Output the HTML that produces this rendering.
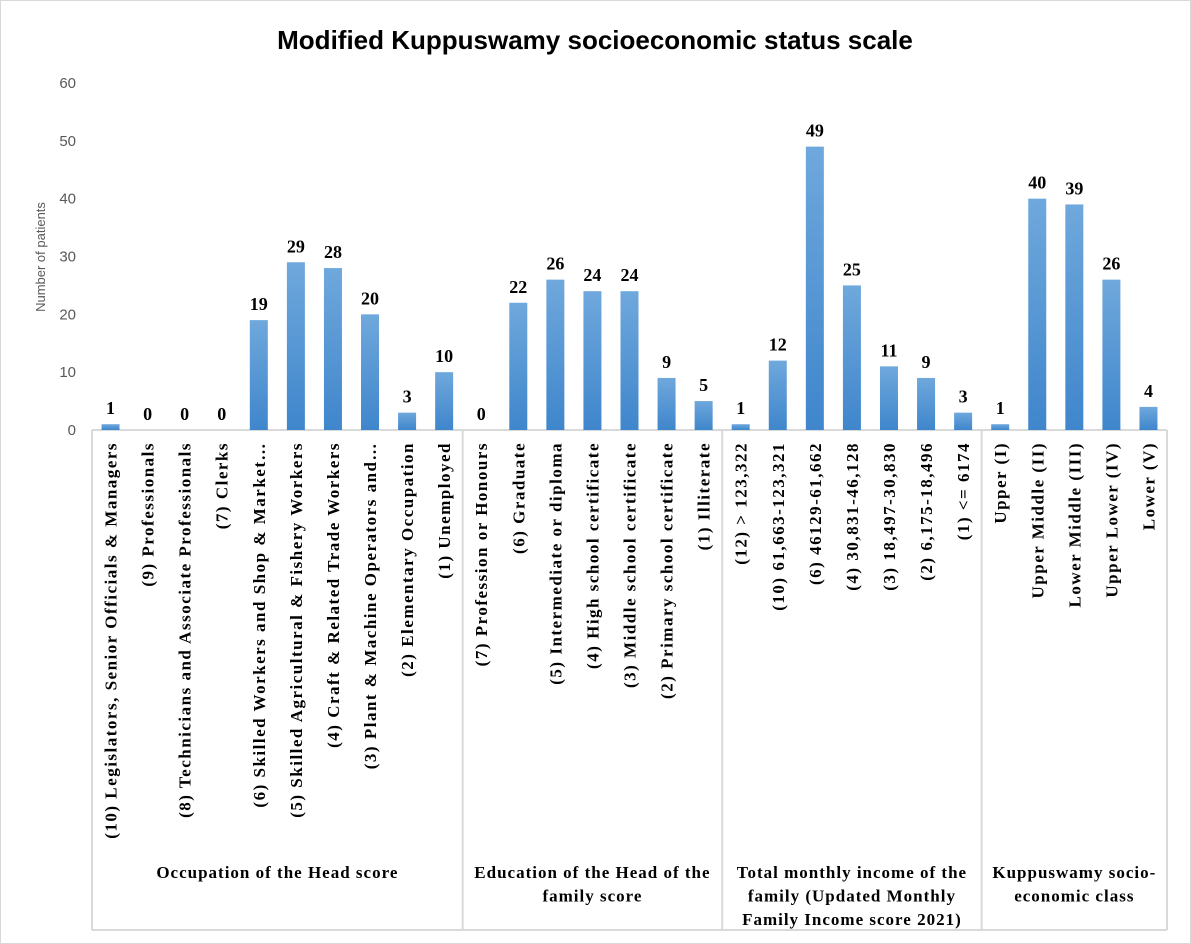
<!DOCTYPE html>
<html><head><meta charset="utf-8"><style>
body{margin:0;background:#fff;}
svg{display:block;}
</style></head><body>
<svg id="c" width="1191" height="944" xmlns="http://www.w3.org/2000/svg">
<rect x="0.5" y="0.5" width="1190" height="943" fill="#fff" stroke="#d9d9d9"/>
<text x="595" y="49" text-anchor="middle" font-family="Liberation Sans, sans-serif" font-weight="bold" font-size="26" fill="#000">Modified Kuppuswamy socioeconomic status scale</text>
<text transform="translate(45,257) rotate(-90)" text-anchor="middle" font-family="Liberation Sans, sans-serif" font-size="13" fill="#595959">Number  of patients</text>
<g id="g"></g>
</svg>
<script>
const categories=["(10) Legislators, Senior Officials & Managers","(9) Professionals","(8) Technicians and Associate Professionals","(7) Clerks","(6) Skilled Workers and Shop & Market…","(5) Skilled Agricultural & Fishery Workers","(4) Craft & Related Trade Workers","(3) Plant & Machine Operators and…","(2) Elementary Occupation","(1) Unemployed","(7) Profession or Honours","(6) Graduate","(5) Intermediate or diploma","(4) High school certificate","(3) Middle school certificate","(2) Primary school certificate","(1) Illiterate","(12) > 123,322","(10) 61,663-123,321","(6) 46129-61,662","(4) 30,831-46,128","(3) 18,497-30,830","(2) 6,175-18,496","(1) <= 6174","Upper (I)","Upper Middle (II)","Lower Middle (III)","Upper Lower (IV)","Lower (V)"];
const values=[1,0,0,0,19,29,28,20,3,10,0,22,26,24,24,9,5,1,12,49,25,11,9,3,1,40,39,26,4];
const groupNames=[["Occupation of the Head score"],["Education of the Head of the","family score"],["Total monthly income of the","family (Updated Monthly","Family Income score 2021)"],["Kuppuswamy socio-","economic class"]];
const groupSizes=[10,7,7,5];
const yTicks=[0,10,20,30,40,50,60];

const L=92,R=1167,Y0=430,Y60=83,B=930;
const pitch=(R-L)/categories.length;
const x=i=>L+pitch*(i+0.5);
const y=v=>Y0-(Y0-Y60)*v/60;
const NS="http://www.w3.org/2000/svg";
const g=document.getElementById('g');
function mk(t,a,txt){const e=document.createElementNS(NS,t);for(const k in a)e.setAttribute(k,a[k]);if(txt!==undefined)e.textContent=txt;g.appendChild(e);return e;}
yTicks.forEach(t=>{
  const e=mk('text',{x:76,y:y(t)+5,'text-anchor':'end','font-family':'Liberation Sans, sans-serif','font-size':15,fill:'#595959'},t);
  
  
});
const ax=mk('line',{x1:L,y1:Y0,x2:R,y2:Y0,stroke:'#d9d9d9','stroke-width':2});


const bl=mk('line',{x1:L,y1:B,x2:R,y2:B,stroke:'#d9d9d9','stroke-width':2});


const defs=mk('defs',{});
defs.innerHTML='<linearGradient id="bg" x1="0" y1="0" x2="0" y2="1"><stop offset="0" stop-color="#6fa8dc"/><stop offset="1" stop-color="#3f86cc"/></linearGradient>';
let start=0;
const seps=[0];
groupSizes.forEach(s=>{start+=s;seps.push(start);});
seps.forEach(s=>{
  const e=mk('line',{x1:L+pitch*s,y1:Y0,x2:L+pitch*s,y2:B,stroke:'#d9d9d9','stroke-width':2});
  
  
});
groupNames.forEach((lines,gi)=>{
  const cx=L+pitch*(seps[gi]+seps[gi+1])/2;
  lines.forEach((ln,li)=>{
    const e=mk('text',{x:cx,y:878+li*23.5,'text-anchor':'middle','font-family':'Liberation Serif, serif','font-weight':'bold','font-size':17,'letter-spacing':1,fill:'#000'},ln);
    
    
  });
});
values.forEach((v,i)=>{
  const cx=x(i);
  const r=mk('rect',{x:cx-9,y:y(v),width:18,height:Y0-y(v),fill:'url(#bg)'});
  
  
  const t=mk('text',{x:cx,y:y(v)-10,'text-anchor':'middle','font-family':'Liberation Serif, serif','font-weight':'bold','font-size':18,fill:'#000'},v);
  
  
  const c=mk('text',{transform:`translate(${cx+6},442) rotate(-90)`,'text-anchor':'end','font-family':'Liberation Serif, serif','font-weight':'bold','font-size':17,'letter-spacing':1.5,fill:'#000'},categories[i]);
  
  
});
</script>
</body></html>
